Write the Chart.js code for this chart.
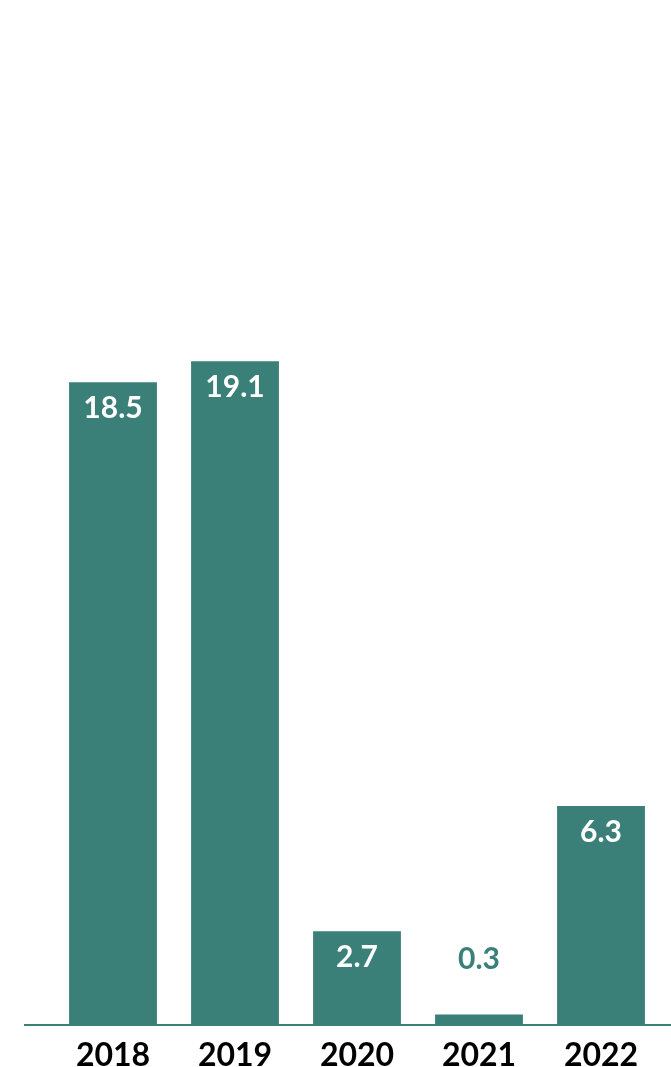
<!DOCTYPE html>
<html lang="en">
<head>
    <meta charset="UTF-8">
    <title>Bars</title>
    <script src="https://cdn.jsdelivr.net/npm/chart.js"></script>
    <style>
        body { margin: 0; background: #fff; }
        #wrap { width: 671px; height: 1067px; }
    </style>
</head>
<body>
<div id="wrap"><canvas id="myChart"></canvas></div>

<script>
    const years = ['2018', '2019', '2020', '2021', '2022'];
    const values = [18.5, 19.1, 2.7, 0.3, 6.3];

    const teal = '#3a7f78';

    // value labels: inside the bar top, or above it when the bar is too short
    const valueLabels = {
        id: 'valueLabels',
        afterDatasetsDraw(chart) {
            const ctx = chart.ctx;
            const meta = chart.getDatasetMeta(0);
            ctx.save();
            ctx.font = 'bold 30px Lato';
            ctx.textAlign = 'center';
            ctx.textBaseline = 'middle';
            meta.data.forEach((bar, i) => {
                const v = values[i];
                if (v < 1) {
                    ctx.fillStyle = teal;
                    ctx.fillText(v.toFixed(1), bar.x, bar.y - 55);
                } else {
                    ctx.fillStyle = '#ffffff';
                    ctx.fillText(v.toFixed(1), bar.x, bar.y + 26);
                }
            });
            ctx.restore();
        }
    };

    // base line across the whole width
    const baseLine = {
        id: 'baseLine',
        afterDatasetsDraw(chart) {
            const ctx = chart.ctx;
            const y = chart.scales.y.getPixelForValue(0);
            ctx.save();
            ctx.strokeStyle = teal;
            ctx.lineWidth = 2;
            ctx.beginPath();
            ctx.moveTo(24, y);
            ctx.lineTo(chart.width, y);
            ctx.stroke();
            ctx.restore();
        }
    };

    const ctx = document.getElementById('myChart').getContext('2d');
    new Chart(ctx, {
        type: 'bar',
        data: {
            labels: years,
            datasets: [{
                data: values,
                backgroundColor: teal,
                barPercentage: 0.72,
                categoryPercentage: 1
            }]
        },
        options: {
            responsive: true,
            maintainAspectRatio: false,
            animation: false,
            layout: { padding: { left: 52, right: 9, top: 0, bottom: 0 } },
            plugins: {
                legend: { display: false },
                tooltip: { enabled: false }
            },
            scales: {
                x: {
                    grid: { display: false, drawTicks: false },
                    border: { display: false },
                    ticks: {
                        color: '#000',
                        font: { family: 'Lato', weight: 'bold', size: 32 },
                        padding: 11
                    },
                    afterFit(scale) { scale.height = 42; }
                },
                y: {
                    display: false,
                    min: 0,
                    max: 29.5
                }
            }
        },
        plugins: [valueLabels, baseLine]
    });
</script>
</body>
</html>
